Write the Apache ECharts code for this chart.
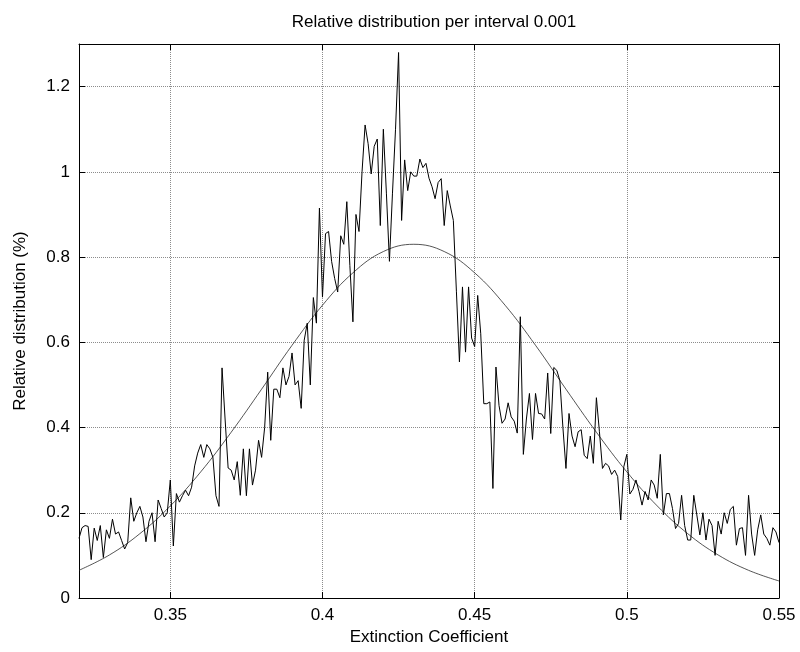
<!DOCTYPE html>
<html>
<head>
<meta charset="utf-8">
<title>Relative distribution per interval 0.001</title>
<script src="https://cdn.jsdelivr.net/npm/echarts@6/dist/echarts.min.js"></script>
<style>
    html, body { margin: 0; padding: 0; background: #ffffff; }
    #mychart { width: 800px; height: 652px; }
</style>
</head>
<body>
<div id="mychart"></div>
<script>
// first interval and interval width of the measurement
var xStart = 0.32;
var xStep = 0.001;

// measured relative distribution (%) per interval, 0.320 ... 0.550
var measured = [
    0.14, 0.165, 0.17, 0.168, 0.09, 0.164, 0.135, 0.17, 0.095, 0.16,
    0.14, 0.185, 0.15, 0.155, 0.135, 0.115, 0.13, 0.235, 0.18, 0.2,
    0.215, 0.19, 0.132, 0.18, 0.2, 0.132, 0.23, 0.21, 0.19, 0.2,
    0.277, 0.122, 0.245, 0.225, 0.24, 0.253, 0.24, 0.26, 0.31, 0.34,
    0.36, 0.33, 0.36, 0.35, 0.33, 0.24, 0.215, 0.54, 0.42, 0.305,
    0.3, 0.277, 0.32, 0.241, 0.35, 0.24, 0.35, 0.265, 0.3, 0.37,
    0.33, 0.4, 0.53, 0.37, 0.49, 0.49, 0.47, 0.54, 0.5, 0.52,
    0.575, 0.5, 0.51, 0.445, 0.605, 0.645, 0.5, 0.705, 0.645, 0.915,
    0.706, 0.855, 0.86, 0.79, 0.75, 0.718, 0.85, 0.83, 0.93, 0.78,
    0.648, 0.9, 0.86, 1.0, 1.11, 1.066, 0.995, 1.06, 1.077, 0.874,
    1.1, 0.95, 0.79, 0.95, 1.1, 1.28, 0.886, 1.028, 0.956, 1.0,
    0.99, 0.99, 1.03, 1.01, 1.02, 0.985, 0.965, 0.937, 0.975, 0.984,
    0.874, 0.956, 0.92, 0.886, 0.72, 0.554, 0.73, 0.577, 0.73, 0.61,
    0.59, 0.71, 0.62, 0.456, 0.456, 0.46, 0.257, 0.542, 0.452, 0.41,
    0.42, 0.458, 0.425, 0.415, 0.387, 0.66, 0.337, 0.42, 0.48, 0.372,
    0.48, 0.433, 0.432, 0.42, 0.528, 0.386, 0.541, 0.534, 0.51, 0.4,
    0.304, 0.433, 0.38, 0.355, 0.39, 0.395, 0.335, 0.327, 0.38, 0.316,
    0.47, 0.39, 0.304, 0.316, 0.31, 0.29, 0.3, 0.285, 0.183, 0.308,
    0.337, 0.244, 0.255, 0.277, 0.25, 0.218, 0.25, 0.23, 0.277, 0.265,
    0.234, 0.337, 0.195, 0.245, 0.245, 0.21, 0.163, 0.175, 0.241, 0.17,
    0.136, 0.136, 0.241, 0.195, 0.148, 0.2, 0.136, 0.185, 0.17, 0.1,
    0.18, 0.15, 0.2, 0.175, 0.208, 0.215, 0.124, 0.163, 0.165, 0.1,
    0.241, 0.15, 0.1, 0.16, 0.195, 0.15, 0.14, 0.124, 0.165, 0.155,
    0.13
];

var fitX = [0.32, 0.33, 0.34, 0.35, 0.36, 0.37, 0.38, 0.39, 0.40, 0.41, 0.42, 0.43,
            0.44, 0.45, 0.46, 0.47, 0.48, 0.49, 0.50, 0.51, 0.52, 0.53, 0.54, 0.55];
var fitY = [0.065, 0.101, 0.151, 0.216, 0.296, 0.389, 0.490, 0.593, 0.687, 0.763, 0.813, 0.830,
            0.813, 0.763, 0.687, 0.593, 0.490, 0.389, 0.296, 0.216, 0.151, 0.101, 0.065, 0.040];

// tick labels
var xTicks = [0.35, 0.4, 0.45, 0.5, 0.55];
var yTicks = [0, 0.2, 0.4, 0.6, 0.8, 1, 1.2];

var FONT = "'Liberation Sans', Arial, Helvetica, sans-serif";
var FONT_SIZE = 17;

var myChart = echarts.init(document.getElementById('mychart'), null, {renderer: 'canvas'});

var measuredData = measured.map(function (v, i) {
    return [+(xStart + i * xStep).toFixed(3), v];
});
var fitData = fitX.map(function (x, i) {
    return [x, fitY[i]];
});

// shared axis look (matlab style box, ticks inside)
function boxAxis(position, ticks, min, max, showLabel) {
    return {
        type: 'value',
        position: position,
        min: min,
        max: max,
        axisLine: {show: true, onZero: false, lineStyle: {color: '#000', width: 1}},
        axisTick: {show: true, inside: true, length: 6, customValues: ticks,
            lineStyle: {color: '#000', width: 1}},
        axisLabel: {show: showLabel, customValues: ticks, color: '#000',
            fontSize: FONT_SIZE, fontFamily: FONT, margin: 9},
        splitLine: {show: showLabel, lineStyle: {color: '#8c8c8c', type: 'dotted', width: 1}}
    };
}

var bottomX = boxAxis('bottom', xTicks, 0.32, 0.55, true);
bottomX.name = 'Extinction Coefficient';
bottomX.nameLocation = 'middle';
bottomX.nameGap = 29;
bottomX.nameTextStyle = {color: '#000', fontSize: FONT_SIZE, fontFamily: FONT};

var leftY = boxAxis('left', yTicks, 0, 1.3, true);
leftY.name = 'Relative distribution (%)';
leftY.nameLocation = 'middle';
leftY.nameGap = 50;
leftY.nameTextStyle = {color: '#000', fontSize: FONT_SIZE, fontFamily: FONT};

var option = {
    backgroundColor: '#ffffff',
    animation: false,
    title: {
        text: 'Relative distribution per interval 0.001',
        left: 429,
        top: 9,
        textAlign: 'center',
        textStyle: {color: '#000', fontSize: FONT_SIZE, fontWeight: 'normal', fontFamily: FONT}
    },
    grid: {left: 79, right: 21, top: 44, bottom: 54, containLabel: false},
    xAxis: [bottomX, boxAxis('top', xTicks, 0.32, 0.55, false)],
    yAxis: [leftY, boxAxis('right', yTicks, 0, 1.3, false)],
    series: [{
        type: 'line',
        data: measuredData,
        showSymbol: false,
        lineStyle: {color: '#000', width: 1},
        z: 3
    }, {
        type: 'line',
        data: fitData,
        smooth: 0.4,
        showSymbol: false,
        lineStyle: {color: '#2a2a2a', width: 0.8},
        z: 2
    }]
};

myChart.setOption(option);
</script>
</body>
</html>
